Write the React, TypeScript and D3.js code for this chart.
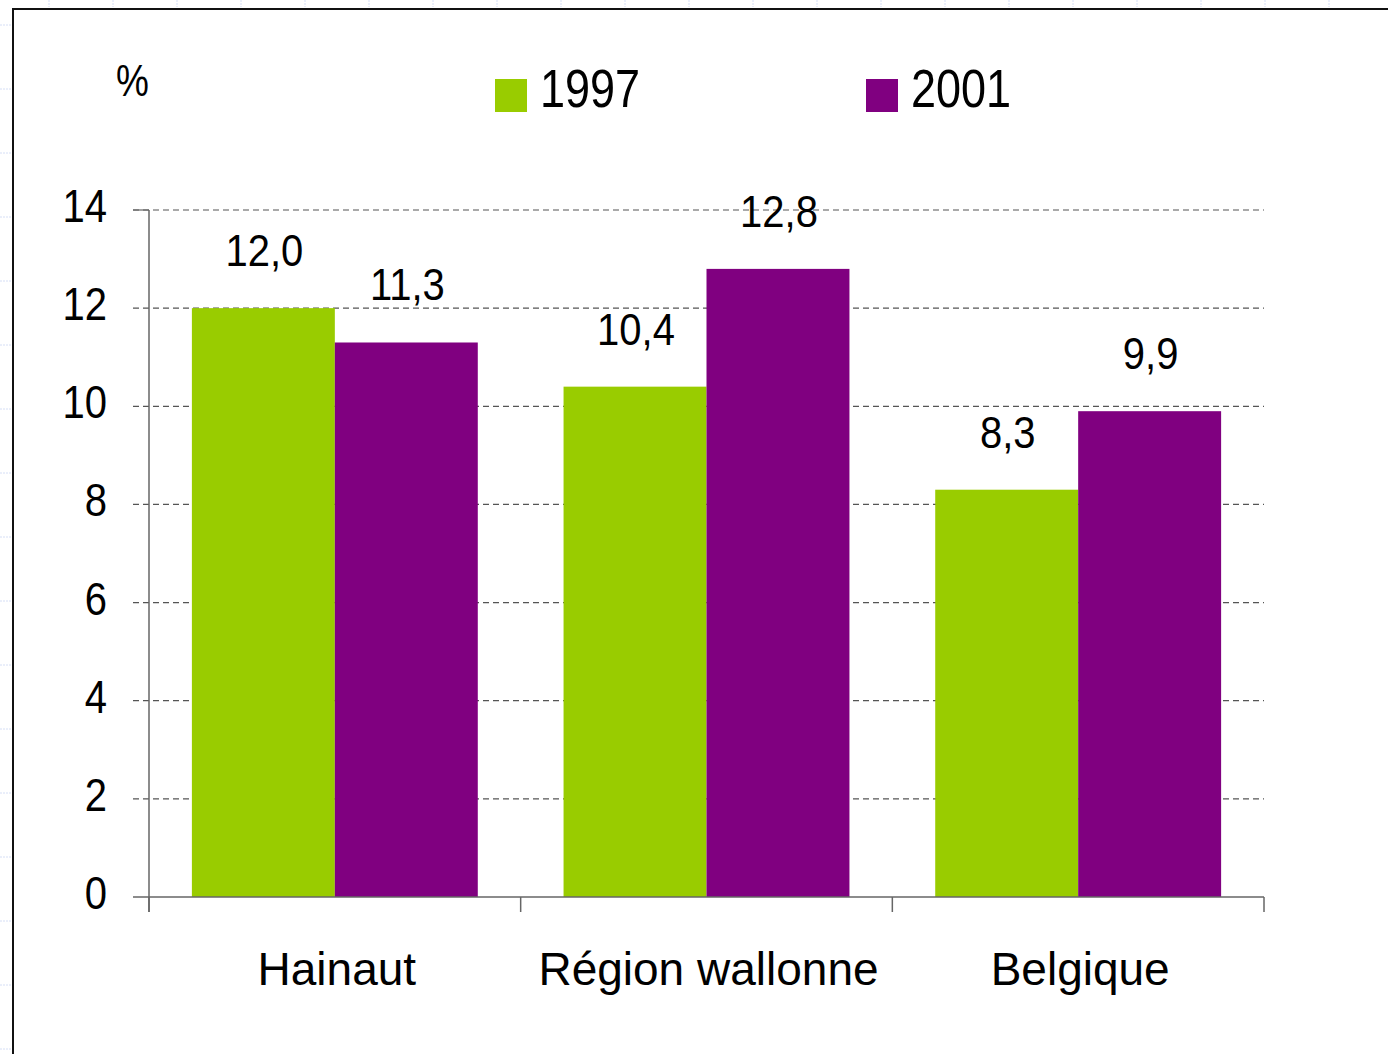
import React from "react";
import * as d3 from "d3";

// chart data
const categories = ["Hainaut", "Région wallonne", "Belgique"];
const seriesNames = ["1997", "2001"];
const values1997 = [12.0, 10.4, 8.3];
const values2001 = [11.3, 12.8, 9.9];
const yTicks = [0, 2, 4, 6, 8, 10, 12, 14];

const colors = ["#99CC00", "#800080"];
const font = "'Liberation Sans', Arial, sans-serif";

const W = 1388;
const H = 1054;

// text that is a little stretched vertically, like the original export
const Tall: React.FC<{
  x: number;
  y: number;
  k: number;
  size: number;
  anchor?: "start" | "middle" | "end";
  children: React.ReactNode;
}> = ({ x, y, k, size, anchor = "start", children }) => (
  <text transform={`translate(${x},${y}) scale(1,${k})`} textAnchor={anchor} fontSize={size} fill="#000">
    {children}
  </text>
);

const App: React.FC = () => {
  const x0 = d3.scaleBand<string>().domain(categories).range([149, 1264]).padding(0);
  const x1 = d3
    .scaleBand<string>()
    .domain(seriesNames)
    .range([0, x0.bandwidth()])
    .paddingInner(0)
    .paddingOuter(0.3);
  const y = d3.scaleLinear().domain([0, 14]).range([897, 210]);

  const series = [values1997, values2001];
  const fmt = (v: number) => v.toFixed(1).replace(".", ",");

  // faint spreadsheet cell marks outside the frame
  const topMarks = d3.range(49, W, 64);
  const leftMarks = d3.range(25, H, 64);

  return (
    <svg
      width={W}
      height={H}
      style={{ position: "absolute", left: 0, top: 0, background: "#fff" }}
      fontFamily={font}
    >
      {topMarks.map((x) => (
        <line key={"t" + x} x1={x} x2={x} y1={0} y2={7} stroke="#d5def5" strokeDasharray="2,1" />
      ))}
      {leftMarks.map((yy) => (
        <line key={"l" + yy} x1={0} x2={11} y1={yy} y2={yy} stroke="#d5def5" strokeDasharray="2,1" />
      ))}

      {/* frame */}
      <rect x={13} y={9} width={W} height={H} fill="#fff" stroke="#111" strokeWidth={2} />

      {/* gridlines */}
      {yTicks.slice(1).map((t) => (
        <line
          key={t}
          x1={133}
          x2={1264}
          y1={y(t)}
          y2={y(t)}
          stroke="#555"
          strokeWidth={1.2}
          strokeDasharray="6,4"
        />
      ))}

      {/* bars */}
      {categories.map((c, i) => (
        <g key={c} transform={`translate(${x0(c)},0)`}>
          {seriesNames.map((s, j) => {
            const v = series[j][i];
            return (
              <g key={s}>
                <rect
                  x={x1(s)}
                  y={y(v)}
                  width={x1.bandwidth()}
                  height={y(0) - y(v)}
                  fill={colors[j]}
                />
                <Tall
                  x={(x1(s) ?? 0) + x1.bandwidth() / 2 + 1}
                  y={y(v) - 42}
                  k={1.12}
                  size={40}
                  anchor="middle"
                >
                  {fmt(v)}
                </Tall>
              </g>
            );
          })}
        </g>
      ))}

      {/* axes */}
      <line x1={149} x2={149} y1={210} y2={912} stroke="#666" strokeWidth={1.5} />
      <line x1={133} x2={1264} y1={897} y2={897} stroke="#666" strokeWidth={1.5} />
      <line x1={133} x2={149} y1={y(14)} y2={y(14)} stroke="#666" strokeWidth={1.2} />
      {[149, ...categories.map((c) => (x0(c) ?? 0) + x0.bandwidth())].map((x) => (
        <line key={x} x1={x} x2={x} y1={897} y2={912} stroke="#666" strokeWidth={1.5} />
      ))}

      {yTicks.map((t) => (
        <Tall key={t} x={107} y={y(t) + 12} k={1.17} size={40} anchor="end">
          {t}
        </Tall>
      ))}

      {categories.map((c) => (
        <text
          key={c}
          x={(x0(c) ?? 0) + x0.bandwidth() / 2 + 2}
          y={985}
          textAnchor="middle"
          fontSize={46}
          fill="#000"
        >
          {c}
        </text>
      ))}

      <Tall x={116} y={96} k={1.18} size={37}>
        %
      </Tall>

      {/* legend */}
      {seriesNames.map((s, j) => {
        const lx = j === 0 ? 495 : 866;
        return (
          <g key={s}>
            <rect x={lx} y={79} width={32} height={33} fill={colors[j]} />
            <Tall x={lx + 45} y={107} k={1.2} size={45}>
              {s}
            </Tall>
          </g>
        );
      })}
    </svg>
  );
};

export default App;
